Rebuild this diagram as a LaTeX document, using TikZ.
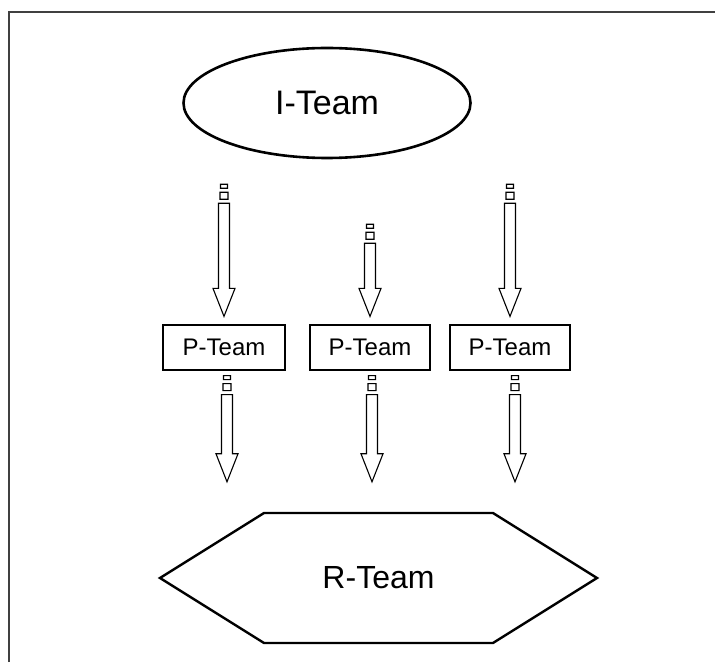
\documentclass[tikz,border=0pt]{standalone}
\usepackage{fontspec}
\setmainfont{Liberation Sans}
\usetikzlibrary{calc}
\usetikzlibrary{positioning}
\usetikzlibrary{shapes}

\begin{document}
\begin{tikzpicture}[
        x=1pt, y=1pt,
        team/.style={
            rectangle,
            draw,
            line width=1.2pt,
            minimum width=120pt,
            minimum height=45pt,
            inner sep=0pt,
            font=\fontsize{24}{27}\selectfont,
        },
        blockarrow/.style={
            line width=1.1pt,
            to path={
                let \p1=(\tikztostart), \p2=(\tikztotarget) in
                (\x1-3.5pt,\y1) rectangle (\x1+3.5pt,\y1-4pt)
                (\x1-4pt,\y1-8pt) rectangle (\x1+4pt,\y1-15pt)
                (\x1-5.5pt,\y1-19pt) -- (\x1-5.5pt,\y2+28pt)
                -- (\x1-11pt,\y2+28pt) -- (\x2,\y2)
                -- (\x1+11pt,\y2+28pt) -- (\x1+5.5pt,\y2+28pt)
                -- (\x1+5.5pt,\y1-19pt) -- cycle
            }
        }
    ]

    \useasboundingbox (0,0) rectangle (715,662);
    \draw [line width=1.5pt, black!75] (9,0) -- (9,650) -- (715,650);

    \node (iteam) at (327,559) [ellipse, draw, line width=2.6pt,
        minimum width=287pt, minimum height=110pt,
        font=\fontsize{34}{38}\selectfont] {I-Team};

    \node (p1) at (224,314.5) [team, minimum width=122pt] {P-Team};
    \node (p2) at (370,314.5) [team] {P-Team};
    \node (p3) at (510,314.5) [team] {P-Team};

    \node (rteam) at (378.5,84) [signal, signal to=east and west,
        signal pointer angle=64, draw, line width=2.4pt,
        minimum width=437pt, minimum height=130pt, inner sep=0pt,
        font=\fontsize{32}{36}\selectfont] {R-Team};

    \draw [blockarrow] ($(p1 |- iteam.south)+(0,-25)$) to ($(p1.north)+(0,8)$);
    \draw [blockarrow] ($(p2 |- iteam.south)+(0,-65)$) to ($(p2.north)+(0,8)$);
    \draw [blockarrow] ($(p3 |- iteam.south)+(0,-25)$) to ($(p3.north)+(0,8)$);

    \draw [blockarrow] ($(p1.south)+(3,-5)$) to ($(p1.south |- rteam.north)+(3,30)$);
    \draw [blockarrow] ($(p2.south)+(2,-5)$) to ($(p2.south |- rteam.north)+(2,30)$);
    \draw [blockarrow] ($(p3.south)+(5,-5)$) to ($(p3.south |- rteam.north)+(5,30)$);

\end{tikzpicture}
\end{document}
